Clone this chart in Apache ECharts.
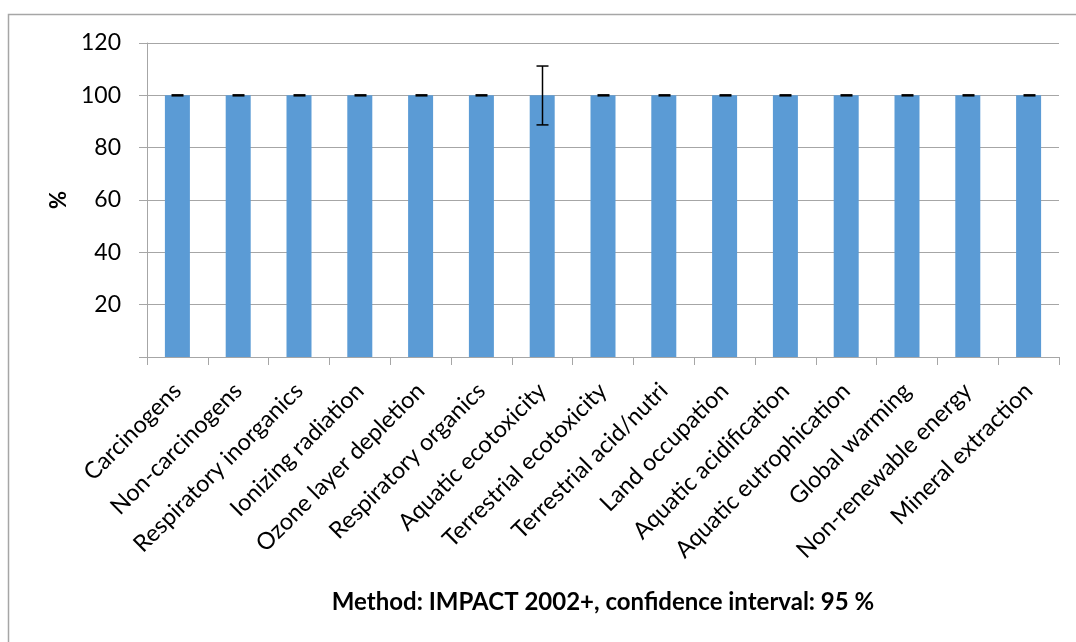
<!DOCTYPE html>
<html>
<head>
<meta charset="utf-8">
<script src="https://cdn.jsdelivr.net/npm/echarts@6/dist/echarts.min.js"></script>
<style>html,body{margin:0;padding:0;background:#fff}#c{width:1076px;height:642px}</style>
</head>
<body>
<div id="c"></div>
<script>
const categories = ["Carcinogens","Non-carcinogens","Respiratory inorganics","Ionizing radiation","Ozone layer depletion","Respiratory organics","Aquatic ecotoxicity","Terrestrial ecotoxicity","Terrestrial acid/nutri","Land occupation","Aquatic acidification","Aquatic eutrophication","Global warming","Non-renewable energy","Mineral extraction"];
const values = [100,100,100,100,100,100,100,100,100,100,100,100,100,100,100];
const errLow = [100,100,100,100,100,100,88.7,100,100,100,100,100,100,100,100];
const errHigh = [100,100,100,100,100,100,111.2,100,100,100,100,100,100,100,100];
const yTicks = [0,20,40,60,80,100,120];

const chart = echarts.init(document.getElementById('c'));
const FONT = 'Lato';
chart.setOption({
  animation: false,
  backgroundColor: '#fff',
  graphic: [
    {type:'rect', shape:{x:8.5,y:14.5,width:1200,height:800}, style:{fill:'none',stroke:'#a6a6a6',lineWidth:1.5}, z:-10},
    {type:'text', x:603, y:590, style:{text:'Method: IMPACT 2002+, confidence interval: 95 %', font:'bold 24px '+FONT, fill:'#000', textAlign:'center'}}
  ],
  grid: {left:147, right:17, top:43, bottom:285},
  xAxis: {
    type:'category', data:categories,
    axisLine:{lineStyle:{color:'#a6a6a6',width:1}},
    axisTick:{show:true, length:8, alignWithLabel:false, lineStyle:{color:'#a6a6a6'}},
    axisLabel:{rotate:45, interval:0, fontFamily:FONT, fontSize:23.5, color:'#000', margin:30}
  },
  yAxis: {
    type:'value', min:0, max:120, interval:20,
    name:'%', nameLocation:'middle', nameGap:76, nameRotate:90,
    nameTextStyle:{fontFamily:FONT, fontSize:22, fontWeight:'bold', color:'#000'},
    axisLine:{show:true, lineStyle:{color:'#a6a6a6'}},
    axisTick:{show:true, length:8, lineStyle:{color:'#a6a6a6'}},
    splitLine:{lineStyle:{color:'#a6a6a6'}},
    axisLabel:{fontFamily:FONT, fontSize:23, color:'#000', margin:26,
      formatter: v => (v === 0 ? '' : (yTicks.includes(v) ? String(v) : ''))}
  },
  series: [
    {type:'bar', data:values, barWidth:25, itemStyle:{color:'#5B9BD5'}},
    {type:'custom', z:10,
      data: categories.map((c,i)=>[i, errLow[i], errHigh[i]]),
      renderItem: function(params, api){
        const lo = api.coord([api.value(0), api.value(1)]);
        const hi = api.coord([api.value(0), api.value(2)]);
        const x = Math.round(lo[0]) + 0.5;
        const hw = 6;
        const zero = Math.abs(hi[1]-lo[1]) < 1;
        const children = [];
        if (zero) {
          children.push({type:'line', shape:{x1:x-hw,y1:lo[1],x2:x+hw,y2:lo[1]}, style:{stroke:'#000',lineWidth:2.5}});
        } else {
          children.push({type:'line', shape:{x1:x,y1:lo[1],x2:x,y2:hi[1]}, style:{stroke:'#000',lineWidth:1.5}});
          children.push({type:'line', shape:{x1:x-hw,y1:lo[1],x2:x+hw,y2:lo[1]}, style:{stroke:'#000',lineWidth:1.5}});
          children.push({type:'line', shape:{x1:x-hw,y1:hi[1],x2:x+hw,y2:hi[1]}, style:{stroke:'#000',lineWidth:1.5}});
        }
        return {type:'group', children};
      }
    }
  ]
});
</script>
</body>
</html>
